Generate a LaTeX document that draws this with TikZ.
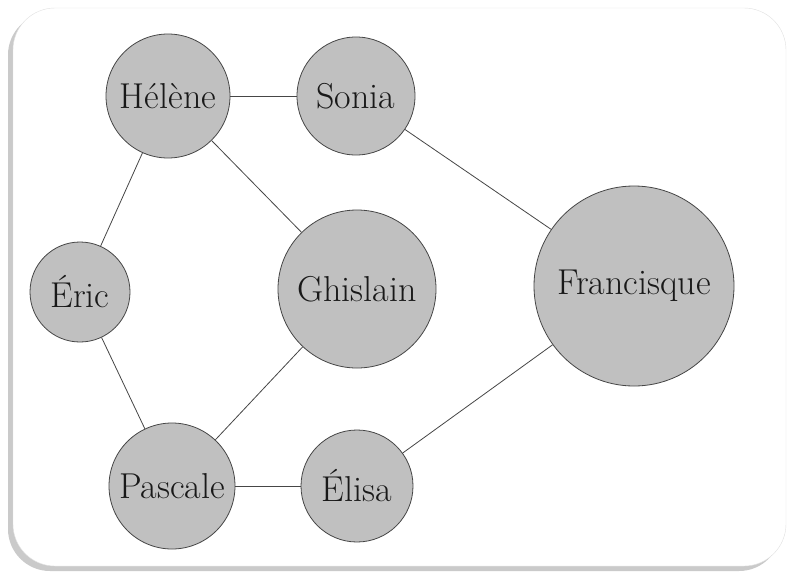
\documentclass[tikz,border=0pt]{standalone}
\usepackage{tikz}
\usetikzlibrary{shadows}
\definecolor{nodegray}{RGB}{192, 192, 192}
\definecolor{edgegray}{RGB}{70, 70, 70}

\begin{document}
\begin{tikzpicture}[x=1pt, y=-1pt,
    friend/.style={circle, draw=edgegray, fill=nodegray, thick, inner sep=0pt,
        font=\fontsize{36}{42}\selectfont, text=black!90},
    link/.style={draw=edgegray, thick}]
    \useasboundingbox (0,0) rectangle (792,576);

    % Frame with shadow
    \draw[draw=black!12, fill=white, rounded corners=42pt,
        drop shadow={shadow xshift=-5pt, shadow yshift=-5pt, opacity=0.35, fill=black!60}]
        (13,8) rectangle (786,566);

    % People - left column
    \node[friend, minimum size=124pt] (helene) at (168,96) {Hélène};
    \node[friend, minimum size=100pt] (eric) at (80,292) {Éric};
    \node[friend, minimum size=126pt] (pascale) at (172,486) {Pascale};

    % People - middle column
    \node[friend, minimum size=118pt] (sonia) at (356,96) {Sonia};
    \node[friend, minimum size=158pt] (ghislain) at (357,289) {Ghislain};
    \node[friend, minimum size=112pt] (elisa) at (357,486) {Élisa};

    % People - right
    \node[friend, minimum size=200pt] (francisque) at (634,286) {Francisque};

    % Links between people
    \draw[link] (helene) -- (sonia);
    \draw[link] (helene) -- (eric);
    \draw[link] (helene) -- (ghislain);
    \draw[link] (sonia) -- (francisque);
    \draw[link] (eric) -- (pascale);
    \draw[link] (ghislain) -- (pascale);
    \draw[link] (pascale) -- (elisa);
    \draw[link] (elisa) -- (francisque);
\end{tikzpicture}
\end{document}
